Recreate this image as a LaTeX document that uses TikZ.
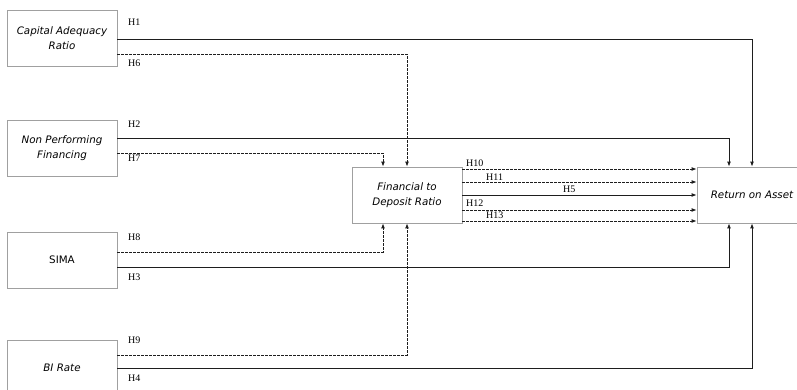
\documentclass[tikz,border=0pt]{standalone}
\usepackage{fontspec}
\setmainfont{Liberation Serif}
\newfontfamily\boxfont{DejaVu Sans}
\usetikzlibrary{arrows.meta,positioning}
\definecolor{boxgray}{RGB}{160,160,160}
\definecolor{linegray}{RGB}{30,30,30}

\begin{document}
\begin{tikzpicture}[x=1pt,y=-1pt,
  box/.style={rectangle,draw=boxgray,fill=white,line width=0.8pt,
              minimum width=110pt,minimum height=56pt,align=center,
              font=\boxfont\fontsize{10.3}{14.5}\selectfont\itshape},
  arr/.style={-{Latex[length=5pt,width=4pt]},linegray,line width=0.9pt},
  darr/.style={arr,dash pattern=on 2.5pt off 1.5pt},
  lbl/.style={font=\fontsize{10}{11}\selectfont,inner sep=0pt,anchor=west}
]
  \fill[white] (0,0) rectangle (797,390);
  \useasboundingbox (0,0) rectangle (797,390);

  % independent variables
  \node[box] (car)  at (62,38)  {Capital Adequacy\\Ratio};
  \node[box] (npf)  at (62,148) {Non Performing\\Financing};
  \node[box,font=\boxfont\fontsize{10.3}{14.5}\selectfont] (sima) at (62,260) {SIMA};
  \node[box] (bi)   at (62,368) {BI Rate};

  % intervening and dependent variables
  \node[box] (fdr) at (407,195) {Financial to\\Deposit Ratio};
  \node[box] (roa) at (752,195) {Return on Asset};

  % direct paths
  \draw[arr] ([yshift=-1pt]car.east) -| (roa.north);
  \draw[arr] ([yshift=10pt]npf.east) -| ([xshift=-23pt]roa.north);
  \draw[arr] ([yshift=-7pt]sima.east) -| ([xshift=-23pt]roa.south);
  \draw[arr] (bi.east) -| (roa.south);

  % paths through FDR
  \draw[darr] ([yshift=-16pt]car.east) -| (fdr.north);
  \draw[darr] ([yshift=-5pt]npf.east) -| ([xshift=-24pt]fdr.north);
  \draw[darr] ([yshift=8pt]sima.east) -| ([xshift=-24pt]fdr.south);
  \draw[darr] ([yshift=13pt]bi.east) -| (fdr.south);

  \draw[darr] ([yshift=26pt]fdr.east) -- ([yshift=26pt]roa.west);
  \draw[darr] ([yshift=13pt]fdr.east) -- ([yshift=13pt]roa.west);
  \draw[arr]  (fdr.east) -- (roa.west);
  \draw[darr] ([yshift=-15pt]fdr.east) -- ([yshift=-15pt]roa.west);
  \draw[darr] ([yshift=-26pt]fdr.east) -- ([yshift=-26pt]roa.west);

  % hypothesis labels
  \node[lbl] (h1) at (128,22)  {H1};
  \node[lbl] (h6) at (128,63)  {H6};
  \node[lbl] (h2) at (128,124) {H2};
  \node[lbl] (h7) at (128,158) {H7};
  \node[lbl] (h8) at (128,237) {H8};
  \node[lbl] (h3) at (128,277) {H3};
  \node[lbl] (h9) at (128,340) {H9};
  \node[lbl] (h4) at (128,378) {H4};
  \node[lbl] (h10) at (466,163) {H10};
  \node[lbl] (h11) at (486,177) {H11};
  \node[lbl] (h5)  at (563,189) {H5};
  \node[lbl] (h12) at (466,203) {H12};
  \node[lbl] (h13) at (486,215) {H13};
\end{tikzpicture}
\end{document}
